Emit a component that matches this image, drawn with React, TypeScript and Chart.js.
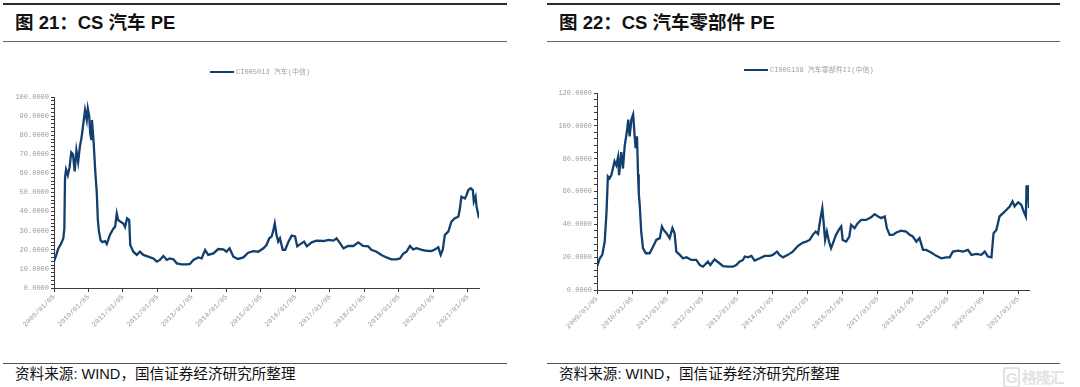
import React, { useEffect, useRef } from 'react';
import { Chart, registerables } from 'chart.js';
Chart.register(...registerables);

// ---------- data ----------
const yearTicks = [2009, 2010, 2011, 2012, 2013, 2014, 2015, 2016, 2017, 2018, 2019, 2020, 2021];

// CS 汽车 PE (CI005013) — time in decimal years, value PE
const autoTimes = [
  2009.00, 2009.06, 2009.12, 2009.20, 2009.27, 2009.30, 2009.32, 2009.35, 2009.40, 2009.45,
  2009.50, 2009.55, 2009.60, 2009.65, 2009.70, 2009.75, 2009.80, 2009.85, 2009.90, 2009.95,
  2009.98, 2010.02, 2010.05, 2010.08, 2010.10, 2010.15, 2010.20, 2010.24, 2010.27, 2010.30,
  2010.35, 2010.40, 2010.48, 2010.53, 2010.62, 2010.72, 2010.77, 2010.82, 2010.86, 2010.93,
  2011.01, 2011.06, 2011.12, 2011.18, 2011.21, 2011.30, 2011.40, 2011.49, 2011.59, 2011.73,
  2011.88, 2011.98, 2012.07, 2012.17, 2012.27, 2012.36, 2012.46, 2012.56, 2012.70, 2012.85,
  2012.94, 2013.04, 2013.18, 2013.28, 2013.38, 2013.47, 2013.62, 2013.76, 2013.91, 2014.00,
  2014.09, 2014.20, 2014.33, 2014.49, 2014.63, 2014.78, 2014.92, 2015.07, 2015.16, 2015.24,
  2015.31, 2015.36, 2015.40, 2015.45, 2015.50, 2015.55, 2015.63, 2015.70, 2015.80, 2015.89,
  2015.99, 2016.05, 2016.12, 2016.25, 2016.33, 2016.47, 2016.61, 2016.81, 2016.96, 2017.10,
  2017.19, 2017.29, 2017.39, 2017.53, 2017.68, 2017.82, 2017.96, 2018.11, 2018.20, 2018.35,
  2018.49, 2018.64, 2018.78, 2018.93, 2019.03, 2019.13, 2019.22, 2019.32, 2019.41, 2019.51,
  2019.66, 2019.80, 2019.94, 2020.04, 2020.14, 2020.21, 2020.27, 2020.33, 2020.43, 2020.52,
  2020.62, 2020.72, 2020.76, 2020.81, 2020.91, 2020.96, 2021.01, 2021.08, 2021.14, 2021.17,
  2021.22, 2021.25, 2021.32,
];
const autoPE = [
  14, 17, 20.5, 23, 26, 31, 58, 62, 59, 63,
  71, 70, 61, 72, 66, 74, 79, 86, 93, 88,
  94, 90, 81, 78, 88, 76, 60, 50, 36, 30,
  25, 24, 24.5, 23, 27.8, 31, 32, 39, 35.6, 34.7,
  33.8, 32, 36.5, 35.6, 22.5, 19, 17.3, 19, 17.3, 16.4,
  15.5, 13.8, 14.7, 16.8, 14.7, 15.5, 15, 12.9, 12.4, 12.4,
  12.6, 14.7, 16, 15.5, 19.9, 17.3, 18.1, 20.4, 20.2, 19,
  20.8, 16.4, 15.2, 16, 18.5, 19.3, 19, 20.8, 22.5, 26,
  27, 30.4, 33.8, 27.8, 24.3, 26, 20, 20, 24.3, 27.4,
  27, 21.8, 22.7, 24.3, 21.8, 23.9, 24.8, 24.6, 25.2, 24.8,
  26, 23.5, 20.8, 22, 22, 23.9, 22, 21.8, 20, 19,
  17.3, 16, 15, 15, 15.5, 18.1, 19, 22, 20.2, 20.8,
  20, 19.5, 19.3, 20.2, 21.3, 17.3, 20, 27.8, 29.5, 34.7,
  36.5, 37.3, 40.8, 47.8, 46.9, 48.7, 51.3, 52.2, 51.3, 45.2,
  47.8, 42.6, 36.5,
];

// CS 汽车零部件 PE (CI005138)
const partsTimes = [
  2009.00, 2009.08, 2009.15, 2009.22, 2009.27, 2009.31, 2009.36, 2009.41, 2009.50, 2009.55,
  2009.60, 2009.63, 2009.69, 2009.74, 2009.79, 2009.86, 2009.89, 2009.93, 2009.98, 2010.03,
  2010.07, 2010.10, 2010.14, 2010.17, 2010.19, 2010.22, 2010.26, 2010.31, 2010.39, 2010.50,
  2010.60, 2010.69, 2010.79, 2010.85, 2010.90, 2010.98, 2011.07, 2011.15, 2011.21, 2011.26,
  2011.36, 2011.45, 2011.55, 2011.69, 2011.83, 2011.93, 2012.02, 2012.16, 2012.23, 2012.35,
  2012.49, 2012.59, 2012.73, 2012.87, 2012.97, 2013.06, 2013.16, 2013.21, 2013.30, 2013.40,
  2013.49, 2013.64, 2013.78, 2013.92, 2014.01, 2014.13, 2014.20, 2014.30, 2014.44, 2014.58,
  2014.73, 2014.87, 2014.96, 2015.06, 2015.15, 2015.23, 2015.30, 2015.36, 2015.42, 2015.46,
  2015.50, 2015.55, 2015.61, 2015.67, 2015.74, 2015.81, 2015.89, 2015.96, 2016.00, 2016.10,
  2016.19, 2016.24, 2016.34, 2016.43, 2016.53, 2016.67, 2016.82, 2016.91, 2017.01, 2017.10,
  2017.20, 2017.26, 2017.34, 2017.43, 2017.53, 2017.67, 2017.81, 2017.91, 2018.00, 2018.10,
  2018.19, 2018.29, 2018.38, 2018.52, 2018.67, 2018.81, 2018.95, 2019.05, 2019.14, 2019.29,
  2019.43, 2019.57, 2019.67, 2019.81, 2019.95, 2020.05, 2020.14, 2020.24, 2020.30, 2020.38,
  2020.47, 2020.57, 2020.67, 2020.76, 2020.84, 2020.90, 2021.00, 2021.09, 2021.16, 2021.22,
  2021.24, 2021.28, 2021.31,
];
const partsPE = [
  14.2, 19.3, 21.4, 29.5, 46.8, 69.2, 68, 70, 78.4, 76,
  81, 70, 84, 74, 88, 97.7, 103.8, 93.6, 103.8, 106.9,
  94.6, 86.4, 93.6, 70.3, 59, 50.9, 35.6, 25.5, 22.4, 22.4,
  26.5, 30.5, 31.6, 38.7, 36.6, 34.6, 31.6, 37.7, 34.6, 23.4,
  21.4, 19.3, 19.9, 18.3, 18.3, 15.2, 14.2, 17.3, 15.2, 18.7,
  16.3, 14.6, 14.2, 14.2, 15.2, 17.3, 18.3, 20.4, 19.9, 20.8,
  17.9, 19.3, 20.8, 20.8, 21.4, 23.4, 21.4, 19.9, 21.4, 23.4,
  26.9, 28.9, 29.5, 30.5, 33.6, 35.6, 34.2, 42.7, 49.9, 40.7,
  30.5, 35.6, 29.5, 25.5, 29.5, 33.6, 36.6, 38.7, 30.5, 29.5,
  32.6, 39.7, 37.7, 40.7, 42.7, 42.7, 44.4, 46.2, 44.8, 43.8,
  44.8, 37.7, 33.6, 33.6, 35, 36.2, 35.6, 33.6, 32.6, 29.5,
  31.6, 24.4, 24.4, 22.8, 20.8, 19.3, 19.9, 19.9, 23.4, 24,
  23.4, 24.4, 21.4, 22, 21.4, 23.4, 20.4, 19.9, 34.6, 36.6,
  44.8, 46.8, 48.9, 50.9, 54, 50.9, 53.4, 51.9, 47.8, 44.8,
  63.1, 63.1, 49.9,
];

const LINE_COLOR = '#123f6e';
const TICK_COLOR = '#9a9a9a';
const AXIS_COLOR = '#3a3a3a';
const CJK = '"Liberation Sans", "Noto Sans CJK SC", sans-serif';

type ChartProps = {
  times: number[];
  values: number[];
  label: string;
  yMax: number;
  yMinor: number;
  yMajor: number;
  xMax: number;
  width: number;
  height: number;
  pad: { left: number; top: number; right: number; bottom: number };
  yAxisWidth: number;
  xAxisHeight: number;
};

function LineChart(p: ChartProps) {
  const ref = useRef<HTMLCanvasElement | null>(null);
  useEffect(() => {
    if (!ref.current) return;
    const points = p.times.map((t, i) => ({ x: t, y: p.values[i] }));
    const yTicks: number[] = [];
    for (let v = 0; v <= p.yMax + 1e-9; v += p.yMinor) yTicks.push(v);
    const chart = new Chart(ref.current, {
      type: 'line',
      data: {
        datasets: [
          {
            label: p.label,
            data: points,
            borderColor: LINE_COLOR,
            backgroundColor: LINE_COLOR,
            borderWidth: 2.3,
            pointRadius: 0,
            tension: 0,
            fill: false,
          },
        ],
      },
      options: {
        animation: false,
        responsive: false,
        maintainAspectRatio: false,
        layout: { padding: p.pad },
        plugins: { legend: { display: false }, tooltip: { enabled: false } },
        scales: {
          x: {
            type: 'linear',
            min: 2009,
            max: p.xMax,
            afterBuildTicks: (axis: any) => {
              axis.ticks = yearTicks.map((v) => ({ value: v }));
            },
            afterFit: (axis: any) => {
              axis.height = p.xAxisHeight;
            },
            grid: {
              drawOnChartArea: false,
              drawTicks: true,
              tickLength: 4,
              color: AXIS_COLOR,
            },
            border: { display: true, color: AXIS_COLOR, width: 1 },
            ticks: {
              autoSkip: false,
              maxRotation: 45,
              minRotation: 45,
              padding: 1,
              color: TICK_COLOR,
              font: { family: '"Liberation Mono", monospace', size: 7 },
              callback: (v: any) => `${v}/01/05`,
            },
          },
          y: {
            type: 'linear',
            min: 0,
            max: p.yMax,
            afterBuildTicks: (axis: any) => {
              axis.ticks = yTicks.map((v) => ({ value: v }));
            },
            afterFit: (axis: any) => {
              axis.width = p.yAxisWidth;
            },
            grid: {
              drawOnChartArea: false,
              drawTicks: true,
              tickLength: 3,
              color: AXIS_COLOR,
            },
            border: { display: true, color: AXIS_COLOR, width: 1 },
            ticks: {
              autoSkip: false,
              padding: 2,
              color: TICK_COLOR,
              font: { family: '"Liberation Mono", monospace', size: 7 },
              callback: (v: any) => (Math.abs(v % p.yMajor) < 1e-6 ? Number(v).toFixed(4) : ''),
            },
          },
        },
      },
    } as any);
    return () => chart.destroy();
  }, []);
  return <canvas ref={ref} width={p.width} height={p.height} style={{ width: p.width, height: p.height, display: 'block' }} />;
}

type PanelProps = {
  ruleLeft: number;
  ruleRight: number;
  textLeft: number;
  title: string;
  legendText: string;
  legendX: number;
  legendY: number;
  chart: ChartProps;
  chartLeft: number;
};

function Panel(p: PanelProps) {
  const ruleW = p.ruleRight - p.ruleLeft;
  return (
    <>
      <div style={{ position: 'absolute', left: p.ruleLeft, top: 3, width: ruleW, height: 2, background: '#2a2a2a' }} />
      <div
        style={{
          position: 'absolute',
          left: p.textLeft,
          top: 11,
          lineHeight: '24px',
          fontSize: 18.5,
          fontWeight: 'bold',
          fontFamily: CJK,
          color: '#111',
          whiteSpace: 'nowrap',
        }}
      >
        {p.title}
      </div>
      <div style={{ position: 'absolute', left: p.ruleLeft, top: 41, width: ruleW, height: 1, background: '#666' }} />
      <div style={{ position: 'absolute', left: p.chartLeft, top: 50 }}>
        <LineChart {...p.chart} />
      </div>
      <div style={{ position: 'absolute', left: p.legendX, top: p.legendY - 1, width: 24, height: 2, background: LINE_COLOR }} />
      <div
        style={{
          position: 'absolute',
          left: p.legendX + 26,
          top: p.legendY - 5,
          lineHeight: '10px',
          fontSize: 7,
          fontFamily: '"Liberation Mono", "Noto Sans CJK SC", monospace',
          color: '#a0a0a0',
          whiteSpace: 'nowrap',
        }}
      >
        {p.legendText}
      </div>
      <div style={{ position: 'absolute', left: p.ruleLeft, top: 363, width: ruleW, height: 1, background: '#555' }} />
      <div
        style={{
          position: 'absolute',
          left: p.textLeft,
          top: 366,
          lineHeight: '17px',
          fontSize: 14.6,
          fontFamily: CJK,
          color: '#111',
          whiteSpace: 'nowrap',
        }}
      >
        资料来源: WIND，国信证券经济研究所整理
      </div>
    </>
  );
}

export default function App() {
  return (
    <div
      style={{
        position: 'absolute',
        left: 0,
        top: 0,
        width: 1080,
        height: 387,
        background: '#fff',
        overflow: 'hidden',
      }}
    >
      <Panel
        ruleLeft={3}
        ruleRight={507}
        textLeft={15}
        title="图 21：CS 汽车 PE"
        legendText="CI005013 汽车(中信)"
        legendX={210}
        legendY={72}
        chartLeft={0}
        chart={{
          times: autoTimes,
          values: autoPE,
          label: 'CI005013 汽车(中信)',
          yMax: 100,
          yMinor: 2,
          yMajor: 10,
          xMax: 2021.32,
          width: 530,
          height: 300,
          pad: { left: 0, top: 47, right: 51, bottom: 0 },
          yAxisWidth: 54,
          xAxisHeight: 62,
        }}
      />
      <Panel
        ruleLeft={547}
        ruleRight={1060}
        textLeft={559}
        title="图 22：CS 汽车零部件 PE"
        legendText="CI005138 汽车零部件II(中信)"
        legendX={744}
        legendY={70}
        chartLeft={540}
        chart={{
          times: partsTimes,
          values: partsPE,
          label: 'CI005138 汽车零部件II(中信)',
          yMax: 120,
          yMinor: 4,
          yMajor: 20,
          xMax: 2021.31,
          width: 530,
          height: 300,
          pad: { left: 0, top: 43, right: 41, bottom: 0 },
          yAxisWidth: 57,
          xAxisHeight: 60,
        }}
      />
      <div
        style={{
          position: 'absolute',
          left: 1003,
          top: 368,
          fontSize: 15,
          lineHeight: '17px',
          fontWeight: 'bold',
          fontFamily: '"Noto Sans CJK SC", sans-serif',
          color: '#e2e2e2',
          whiteSpace: 'nowrap',
          letterSpacing: -1,
        }}
      >
        <span style={{ border: '2px solid #e2e2e2', borderRadius: 3, padding: '0 1px', marginRight: 2, fontFamily: CJK }}>G</span>
        格隆汇
      </div>
    </div>
  );
}
